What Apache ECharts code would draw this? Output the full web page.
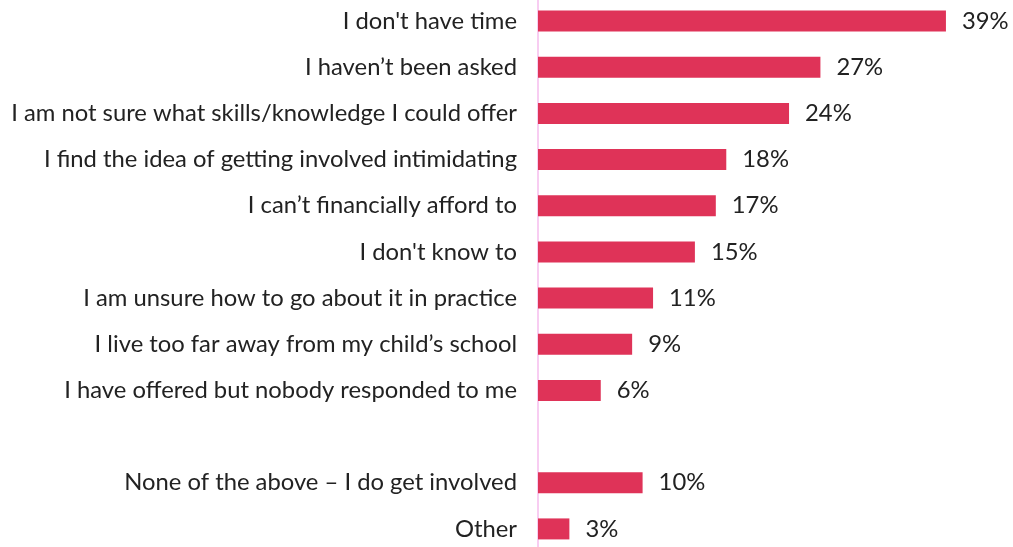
<!DOCTYPE html>
<html>
<head>
<meta charset="utf-8">
<script src="https://cdn.jsdelivr.net/npm/echarts@6/dist/echarts.min.js"></script>
<style>
  html, body { margin: 0; padding: 0; background: #ffffff; }
  #chart { width: 1013px; height: 547px; }
</style>
</head>
<body>
<div id="chart"></div>
<script>
// Reasons for not getting involved, top to bottom; the empty entry is a spacer row
const categories = [
  "I don't have time",
  "I haven\u2019t been asked",
  "I am not sure what skills/knowledge I could offer",
  "I find the idea of getting involved intimidating",
  "I can\u2019t financially afford to",
  "I don't know to",
  "I am unsure how to go about it in practice",
  "I live too far away from my child\u2019s school",
  "I have offered but nobody responded to me",
  "",
  "None of the above \u2013 I do get involved",
  "Other"
];
const percentages = [39, 27, 24, 18, 17, 15, 11, 9, 6, null, 10, 3];

const FONT = 'Lato, "Open Sans", sans-serif';

const chart = echarts.init(document.getElementById('chart'), null, { renderer: 'canvas' });
chart.setOption({
  animation: false,
  backgroundColor: '#ffffff',
  grid: {
    left: 538, width: 470.7, top: -2, height: 554,
    containLabel: false,
    outerBoundsMode: 'none'
  },
  xAxis: {
    type: 'value',
    min: 0,
    max: 45,
    show: false
  },
  yAxis: {
    type: 'category',
    inverse: true,
    data: categories,
    axisLine: { show: true, lineStyle: { color: '#f8cdf2', width: 2 } },
    axisTick: { show: false },
    splitLine: { show: false },
    axisLabel: {
      margin: 21,
      color: '#222222',
      fontSize: 23.8,
      fontFamily: FONT
    }
  },
  series: [{
    type: 'bar',
    data: percentages.map(v => (v === null ? '-' : v)),
    barWidth: 21,
    itemStyle: { color: '#df3358' },
    label: {
      show: true,
      position: 'right',
      distance: 16,
      formatter: p => p.value + '%',
      color: '#222222',
      fontSize: 23.8,
      fontFamily: FONT
    }
  }]
});
</script>
</body>
</html>
